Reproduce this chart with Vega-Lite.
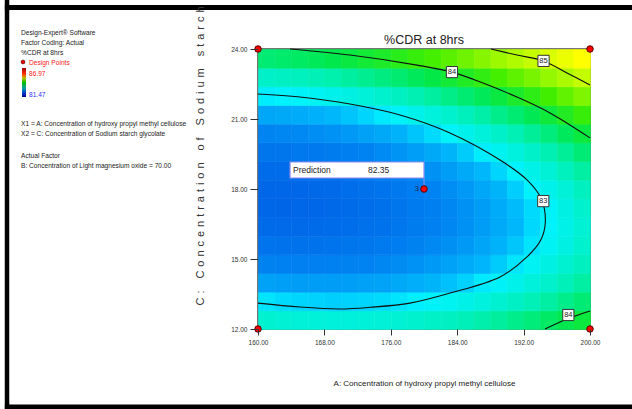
{
  "$schema": "https://vega.github.io/schema/vega-lite/v6.json",
  "width": 332,
  "height": 280,
  "autosize": {"type": "none"},
  "padding": {"left": 258, "top": 49, "right": 42, "bottom": 80},
  "background": "white",
  "config": {"view": {"stroke": "#4a4a4a", "strokeWidth": 1.5}},
  "datasets": {
    "grid": [
      {"a":161,"c":12.4,"v":83.32},{"a":161,"c":13.2,"v":82.95},{"a":161,"c":14.0,"v":82.63},{"a":161,"c":14.8,"v":82.38},{"a":161,"c":15.6,"v":82.19},{"a":161,"c":16.4,"v":82.07},{"a":161,"c":17.2,"v":82.01},{"a":161,"c":18.0,"v":82.01},{"a":161,"c":18.8,"v":82.08},{"a":161,"c":19.6,"v":82.21},{"a":161,"c":20.4,"v":82.40},{"a":161,"c":21.2,"v":82.66},{"a":161,"c":22.0,"v":82.98},{"a":161,"c":22.8,"v":83.36},{"a":161,"c":23.6,"v":83.81},
      {"a":163,"c":12.4,"v":83.29},{"a":163,"c":13.2,"v":82.92},{"a":163,"c":14.0,"v":82.61},{"a":163,"c":14.8,"v":82.36},{"a":163,"c":15.6,"v":82.18},{"a":163,"c":16.4,"v":82.06},{"a":163,"c":17.2,"v":82.00},{"a":163,"c":18.0,"v":82.01},{"a":163,"c":18.8,"v":82.08},{"a":163,"c":19.6,"v":82.22},{"a":163,"c":20.4,"v":82.42},{"a":163,"c":21.2,"v":82.68},{"a":163,"c":22.0,"v":83.00},{"a":163,"c":22.8,"v":83.39},{"a":163,"c":23.6,"v":83.85},
      {"a":165,"c":12.4,"v":83.27},{"a":165,"c":13.2,"v":82.90},{"a":165,"c":14.0,"v":82.59},{"a":165,"c":14.8,"v":82.35},{"a":165,"c":15.6,"v":82.17},{"a":165,"c":16.4,"v":82.06},{"a":165,"c":17.2,"v":82.01},{"a":165,"c":18.0,"v":82.02},{"a":165,"c":18.8,"v":82.10},{"a":165,"c":19.6,"v":82.24},{"a":165,"c":20.4,"v":82.44},{"a":165,"c":21.2,"v":82.71},{"a":165,"c":22.0,"v":83.04},{"a":165,"c":22.8,"v":83.43},{"a":165,"c":23.6,"v":83.89},
      {"a":167,"c":12.4,"v":83.25},{"a":167,"c":13.2,"v":82.89},{"a":167,"c":14.0,"v":82.59},{"a":167,"c":14.8,"v":82.35},{"a":167,"c":15.6,"v":82.18},{"a":167,"c":16.4,"v":82.07},{"a":167,"c":17.2,"v":82.02},{"a":167,"c":18.0,"v":82.04},{"a":167,"c":18.8,"v":82.12},{"a":167,"c":19.6,"v":82.26},{"a":167,"c":20.4,"v":82.47},{"a":167,"c":21.2,"v":82.74},{"a":167,"c":22.0,"v":83.08},{"a":167,"c":22.8,"v":83.48},{"a":167,"c":23.6,"v":83.94},
      {"a":169,"c":12.4,"v":83.24},{"a":169,"c":13.2,"v":82.88},{"a":169,"c":14.0,"v":82.59},{"a":169,"c":14.8,"v":82.36},{"a":169,"c":15.6,"v":82.19},{"a":169,"c":16.4,"v":82.08},{"a":169,"c":17.2,"v":82.04},{"a":169,"c":18.0,"v":82.06},{"a":169,"c":18.8,"v":82.15},{"a":169,"c":19.6,"v":82.30},{"a":169,"c":20.4,"v":82.51},{"a":169,"c":21.2,"v":82.79},{"a":169,"c":22.0,"v":83.13},{"a":169,"c":22.8,"v":83.53},{"a":169,"c":23.6,"v":84.00},
      {"a":171,"c":12.4,"v":83.24},{"a":171,"c":13.2,"v":82.89},{"a":171,"c":14.0,"v":82.60},{"a":171,"c":14.8,"v":82.37},{"a":171,"c":15.6,"v":82.21},{"a":171,"c":16.4,"v":82.11},{"a":171,"c":17.2,"v":82.07},{"a":171,"c":18.0,"v":82.10},{"a":171,"c":18.8,"v":82.19},{"a":171,"c":19.6,"v":82.34},{"a":171,"c":20.4,"v":82.56},{"a":171,"c":21.2,"v":82.84},{"a":171,"c":22.0,"v":83.19},{"a":171,"c":22.8,"v":83.60},{"a":171,"c":23.6,"v":84.07},
      {"a":173,"c":12.4,"v":83.25},{"a":173,"c":13.2,"v":82.90},{"a":173,"c":14.0,"v":82.62},{"a":173,"c":14.8,"v":82.39},{"a":173,"c":15.6,"v":82.23},{"a":173,"c":16.4,"v":82.14},{"a":173,"c":17.2,"v":82.11},{"a":173,"c":18.0,"v":82.14},{"a":173,"c":18.8,"v":82.24},{"a":173,"c":19.6,"v":82.39},{"a":173,"c":20.4,"v":82.62},{"a":173,"c":21.2,"v":82.90},{"a":173,"c":22.0,"v":83.25},{"a":173,"c":22.8,"v":83.67},{"a":173,"c":23.6,"v":84.15},
      {"a":175,"c":12.4,"v":83.27},{"a":175,"c":13.2,"v":82.92},{"a":175,"c":14.0,"v":82.64},{"a":175,"c":14.8,"v":82.42},{"a":175,"c":15.6,"v":82.27},{"a":175,"c":16.4,"v":82.18},{"a":175,"c":17.2,"v":82.15},{"a":175,"c":18.0,"v":82.19},{"a":175,"c":18.8,"v":82.29},{"a":175,"c":19.6,"v":82.45},{"a":175,"c":20.4,"v":82.68},{"a":175,"c":21.2,"v":82.97},{"a":175,"c":22.0,"v":83.33},{"a":175,"c":22.8,"v":83.75},{"a":175,"c":23.6,"v":84.23},
      {"a":177,"c":12.4,"v":83.29},{"a":177,"c":13.2,"v":82.95},{"a":177,"c":14.0,"v":82.68},{"a":177,"c":14.8,"v":82.46},{"a":177,"c":15.6,"v":82.31},{"a":177,"c":16.4,"v":82.23},{"a":177,"c":17.2,"v":82.21},{"a":177,"c":18.0,"v":82.25},{"a":177,"c":18.8,"v":82.35},{"a":177,"c":19.6,"v":82.52},{"a":177,"c":20.4,"v":82.75},{"a":177,"c":21.2,"v":83.05},{"a":177,"c":22.0,"v":83.41},{"a":177,"c":22.8,"v":83.83},{"a":177,"c":23.6,"v":84.32},
      {"a":179,"c":12.4,"v":83.33},{"a":179,"c":13.2,"v":82.99},{"a":179,"c":14.0,"v":82.72},{"a":179,"c":14.8,"v":82.51},{"a":179,"c":15.6,"v":82.37},{"a":179,"c":16.4,"v":82.29},{"a":179,"c":17.2,"v":82.27},{"a":179,"c":18.0,"v":82.31},{"a":179,"c":18.8,"v":82.42},{"a":179,"c":19.6,"v":82.60},{"a":179,"c":20.4,"v":82.84},{"a":179,"c":21.2,"v":83.14},{"a":179,"c":22.0,"v":83.50},{"a":179,"c":22.8,"v":83.93},{"a":179,"c":23.6,"v":84.42},
      {"a":181,"c":12.4,"v":83.37},{"a":181,"c":13.2,"v":83.04},{"a":181,"c":14.0,"v":82.77},{"a":181,"c":14.8,"v":82.57},{"a":181,"c":15.6,"v":82.43},{"a":181,"c":16.4,"v":82.35},{"a":181,"c":17.2,"v":82.34},{"a":181,"c":18.0,"v":82.39},{"a":181,"c":18.8,"v":82.50},{"a":181,"c":19.6,"v":82.68},{"a":181,"c":20.4,"v":82.92},{"a":181,"c":21.2,"v":83.23},{"a":181,"c":22.0,"v":83.60},{"a":181,"c":22.8,"v":84.03},{"a":181,"c":23.6,"v":84.53},
      {"a":183,"c":12.4,"v":83.41},{"a":183,"c":13.2,"v":83.09},{"a":183,"c":14.0,"v":82.83},{"a":183,"c":14.8,"v":82.63},{"a":183,"c":15.6,"v":82.49},{"a":183,"c":16.4,"v":82.42},{"a":183,"c":17.2,"v":82.42},{"a":183,"c":18.0,"v":82.47},{"a":183,"c":18.8,"v":82.59},{"a":183,"c":19.6,"v":82.77},{"a":183,"c":20.4,"v":83.02},{"a":183,"c":21.2,"v":83.33},{"a":183,"c":22.0,"v":83.71},{"a":183,"c":22.8,"v":84.14},{"a":183,"c":23.6,"v":84.64},
      {"a":185,"c":12.4,"v":83.47},{"a":185,"c":13.2,"v":83.15},{"a":185,"c":14.0,"v":82.89},{"a":185,"c":14.8,"v":82.70},{"a":185,"c":15.6,"v":82.57},{"a":185,"c":16.4,"v":82.50},{"a":185,"c":17.2,"v":82.50},{"a":185,"c":18.0,"v":82.56},{"a":185,"c":18.8,"v":82.69},{"a":185,"c":19.6,"v":82.87},{"a":185,"c":20.4,"v":83.13},{"a":185,"c":21.2,"v":83.44},{"a":185,"c":22.0,"v":83.82},{"a":185,"c":22.8,"v":84.26},{"a":185,"c":23.6,"v":84.77},
      {"a":187,"c":12.4,"v":83.54},{"a":187,"c":13.2,"v":83.22},{"a":187,"c":14.0,"v":82.97},{"a":187,"c":14.8,"v":82.78},{"a":187,"c":15.6,"v":82.65},{"a":187,"c":16.4,"v":82.59},{"a":187,"c":17.2,"v":82.59},{"a":187,"c":18.0,"v":82.66},{"a":187,"c":18.8,"v":82.79},{"a":187,"c":19.6,"v":82.98},{"a":187,"c":20.4,"v":83.24},{"a":187,"c":21.2,"v":83.56},{"a":187,"c":22.0,"v":83.94},{"a":187,"c":22.8,"v":84.39},{"a":187,"c":23.6,"v":84.90},
      {"a":189,"c":12.4,"v":83.61},{"a":189,"c":13.2,"v":83.30},{"a":189,"c":14.0,"v":83.05},{"a":189,"c":14.8,"v":82.87},{"a":189,"c":15.6,"v":82.75},{"a":189,"c":16.4,"v":82.69},{"a":189,"c":17.2,"v":82.70},{"a":189,"c":18.0,"v":82.77},{"a":189,"c":18.8,"v":82.90},{"a":189,"c":19.6,"v":83.10},{"a":189,"c":20.4,"v":83.36},{"a":189,"c":21.2,"v":83.69},{"a":189,"c":22.0,"v":84.07},{"a":189,"c":22.8,"v":84.53},{"a":189,"c":23.6,"v":85.04},
      {"a":191,"c":12.4,"v":83.69},{"a":191,"c":13.2,"v":83.38},{"a":191,"c":14.0,"v":83.14},{"a":191,"c":14.8,"v":82.96},{"a":191,"c":15.6,"v":82.85},{"a":191,"c":16.4,"v":82.79},{"a":191,"c":17.2,"v":82.81},{"a":191,"c":18.0,"v":82.88},{"a":191,"c":18.8,"v":83.02},{"a":191,"c":19.6,"v":83.22},{"a":191,"c":20.4,"v":83.49},{"a":191,"c":21.2,"v":83.82},{"a":191,"c":22.0,"v":84.21},{"a":191,"c":22.8,"v":84.67},{"a":191,"c":23.6,"v":85.19},
      {"a":193,"c":12.4,"v":83.78},{"a":193,"c":13.2,"v":83.48},{"a":193,"c":14.0,"v":83.24},{"a":193,"c":14.8,"v":83.07},{"a":193,"c":15.6,"v":82.95},{"a":193,"c":16.4,"v":82.91},{"a":193,"c":17.2,"v":82.92},{"a":193,"c":18.0,"v":83.00},{"a":193,"c":18.8,"v":83.15},{"a":193,"c":19.6,"v":83.36},{"a":193,"c":20.4,"v":83.63},{"a":193,"c":21.2,"v":83.96},{"a":193,"c":22.0,"v":84.36},{"a":193,"c":22.8,"v":84.82},{"a":193,"c":23.6,"v":85.35},
      {"a":195,"c":12.4,"v":83.88},{"a":195,"c":13.2,"v":83.58},{"a":195,"c":14.0,"v":83.35},{"a":195,"c":14.8,"v":83.18},{"a":195,"c":15.6,"v":83.07},{"a":195,"c":16.4,"v":83.03},{"a":195,"c":17.2,"v":83.05},{"a":195,"c":18.0,"v":83.13},{"a":195,"c":18.8,"v":83.28},{"a":195,"c":19.6,"v":83.50},{"a":195,"c":20.4,"v":83.77},{"a":195,"c":21.2,"v":84.11},{"a":195,"c":22.0,"v":84.51},{"a":195,"c":22.8,"v":84.98},{"a":195,"c":23.6,"v":85.51},
      {"a":197,"c":12.4,"v":83.98},{"a":197,"c":13.2,"v":83.69},{"a":197,"c":14.0,"v":83.46},{"a":197,"c":14.8,"v":83.30},{"a":197,"c":15.6,"v":83.19},{"a":197,"c":16.4,"v":83.16},{"a":197,"c":17.2,"v":83.18},{"a":197,"c":18.0,"v":83.27},{"a":197,"c":18.8,"v":83.43},{"a":197,"c":19.6,"v":83.64},{"a":197,"c":20.4,"v":83.92},{"a":197,"c":21.2,"v":84.27},{"a":197,"c":22.0,"v":84.68},{"a":197,"c":22.8,"v":85.15},{"a":197,"c":23.6,"v":85.68},
      {"a":199,"c":12.4,"v":84.09},{"a":199,"c":13.2,"v":83.81},{"a":199,"c":14.0,"v":83.58},{"a":199,"c":14.8,"v":83.42},{"a":199,"c":15.6,"v":83.33},{"a":199,"c":16.4,"v":83.29},{"a":199,"c":17.2,"v":83.33},{"a":199,"c":18.0,"v":83.42},{"a":199,"c":18.8,"v":83.58},{"a":199,"c":19.6,"v":83.80},{"a":199,"c":20.4,"v":84.09},{"a":199,"c":21.2,"v":84.44},{"a":199,"c":22.0,"v":84.86},{"a":199,"c":22.8,"v":85.34},{"a":199,"c":23.6,"v":85.86}
    ],
    "contours": [
      {"id":"c83","i":1,"a":160,"c":22.07},{"id":"c83","i":2,"a":165.06,"c":21.94},{"id":"c83","i":3,"a":171.08,"c":21.64},{"id":"c83","i":4,"a":177.11,"c":21.17},{"id":"c83","i":5,"a":183.13,"c":20.40},{"id":"c83","i":6,"a":189.16,"c":19.24},{"id":"c83","i":7,"a":192.41,"c":18.39},{"id":"c83","i":8,"a":194.10,"c":17.60},{"id":"c83","i":9,"a":194.62,"c":16.60},{"id":"c83","i":10,"a":194.05,"c":15.80},{"id":"c83","i":11,"a":192.41,"c":15.09},{"id":"c83","i":12,"a":189.16,"c":14.23},{"id":"c83","i":13,"a":183.13,"c":13.54},{"id":"c83","i":14,"a":178.31,"c":13.11},{"id":"c83","i":15,"a":173.5,"c":12.93},{"id":"c83","i":16,"a":169.88,"c":12.86},{"id":"c83","i":17,"a":165.06,"c":12.94},{"id":"c83","i":18,"a":160,"c":13.11},
      {"id":"c84t","i":1,"a":163.86,"c":24.0},{"id":"c84t","i":2,"a":171.08,"c":23.74},{"id":"c84t","i":3,"a":179.16,"c":23.31},{"id":"c84t","i":4,"a":183.37,"c":23.01},{"id":"c84t","i":5,"a":187.11,"c":22.54},{"id":"c84t","i":6,"a":191.2,"c":21.94},{"id":"c84t","i":7,"a":195.18,"c":21.26},{"id":"c84t","i":8,"a":200,"c":20.19},
      {"id":"c85","i":1,"a":188.07,"c":24.0},{"id":"c85","i":2,"a":191.2,"c":23.74},{"id":"c85","i":3,"a":194.4,"c":23.49},{"id":"c85","i":4,"a":197.23,"c":22.97},{"id":"c85","i":5,"a":200,"c":22.46},
      {"id":"c84b","i":1,"a":194.58,"c":12.0},{"id":"c84b","i":2,"a":197.39,"c":12.45},{"id":"c84b","i":3,"a":200,"c":12.77}
    ],
    "labels": [
      {"a":183.37,"c":23.01,"t":"84"},{"a":194.4,"c":23.49,"t":"85"},{"a":194.37,"c":17.48,"t":"83"},{"a":197.39,"c":12.6,"t":"84"}
    ],
    "design": [
      {"a":160,"c":12},{"a":160,"c":24},{"a":200,"c":12},{"a":200,"c":24},{"a":180,"c":18}
    ]
  },
  "layer": [
    {
      "data": {"name": "grid"},
      "mark": {"type": "rect", "strokeWidth": 0.6},
      "encoding": {
        "x": {"field": "a", "type": "quantitative", "bin": {"extent": [160, 200], "step": 2},
              "scale": {"domain": [160, 200], "nice": false, "zero": false},
              "axis": {"values": [160, 168, 176, 184, 192, 200], "format": ".2f", "title": "A: Concentration of hydroxy propyl methyl cellulose",
                       "domain": false, "grid": false, "tickSize": 6, "tickColor": "#333333", "tickWidth": 1,
                       "labelFont": "Liberation Sans, Arial, sans-serif", "labelFontSize": 6.5, "labelColor": "#333333", "labelPadding": 4,
                       "labelFlush": false, "labelOverlap": false, "labelBound": false,
                       "titleFont": "Liberation Sans, Arial, sans-serif", "titleFontSize": 8, "titleFontWeight": "normal", "titleColor": "#222222",
                       "titleX": 166, "titleY": 54, "titleAlign": "center", "titleBaseline": "middle"}},
        "y": {"field": "c", "type": "quantitative", "bin": {"extent": [12, 24], "step": 0.8},
              "scale": {"domain": [12, 24], "nice": false, "zero": false},
              "axis": {"values": [12, 15, 18, 21, 24], "format": ".2f",
                       "title": "C \u200a: \u200a \u200a \u200aC \u200ao \u200an \u200ac \u200ae \u200an \u200at \u200ar \u200aa \u200at \u200ai \u200ao \u200an \u200a \u200a \u200ao \u200af \u200a \u200a \u200aS \u200ao \u200ad \u200ai \u200au \u200am \u200a \u200a \u200as \u200at \u200aa \u200ar \u200ac \u200ah \u200a \u200a \u200ag \u200al \u200ay \u200ac \u200ao \u200al \u200aa \u200at \u200ae",
                       "domain": false, "grid": false, "tickSize": 8, "tickColor": "#333333", "tickWidth": 1,
                       "labelFont": "Liberation Sans, Arial, sans-serif", "labelFontSize": 6.5, "labelColor": "#333333", "labelPadding": 3,
                       "labelFlush": false, "labelOverlap": false, "labelBound": false,
                       "titleFont": "Liberation Sans, Arial, sans-serif", "titleFontSize": 11, "titleFontWeight": "normal", "titleColor": "#333333",
                       "titleX": -55, "titleY": 256, "titleAngle": 270, "titleAlign": "left", "titleBaseline": "alphabetic"}},
        "fill": {"field": "v", "type": "quantitative", "legend": null,
                 "scale": {"domain": [81.95, 82.4, 82.8, 83.0, 83.5, 84.0, 84.5, 85.0, 85.5, 85.85],
                           "range": ["#0062e6", "#0084f2", "#00b8fb", "#00f2ff", "#00f0b4", "#00e84c", "#40ee00", "#98f800", "#d8ff00", "#ffff00"], "interpolate": "rgb"}},
        "stroke": {"field": "v", "type": "quantitative", "legend": null,
                 "scale": {"domain": [81.95, 82.4, 82.8, 83.0, 83.5, 84.0, 84.5, 85.0, 85.5, 85.85],
                           "range": ["#0062e6", "#0084f2", "#00b8fb", "#00f2ff", "#00f0b4", "#00e84c", "#40ee00", "#98f800", "#d8ff00", "#ffff00"], "interpolate": "rgb"}}
      }
    },
    {
      "data": {"name": "contours"},
      "mark": {"type": "line", "interpolate": "catmull-rom", "color": "#111111", "strokeWidth": 1.1},
      "encoding": {
        "x": {"field": "a", "type": "quantitative", "scale": {"domain": [160, 200], "nice": false, "zero": false}},
        "y": {"field": "c", "type": "quantitative", "scale": {"domain": [12, 24], "nice": false, "zero": false}},
        "detail": {"field": "id"},
        "order": {"field": "i", "type": "quantitative"}
      }
    },
    {
      "data": {"name": "labels"},
      "mark": {"type": "point", "shape": "square", "size": 125, "filled": true, "fill": "white", "stroke": "#333333", "strokeWidth": 1, "opacity": 1},
      "encoding": {
        "x": {"field": "a", "type": "quantitative", "scale": {"domain": [160, 200], "nice": false, "zero": false}},
        "y": {"field": "c", "type": "quantitative", "scale": {"domain": [12, 24], "nice": false, "zero": false}}
      }
    },
    {
      "data": {"name": "labels"},
      "mark": {"type": "text", "fontSize": 7.5, "font": "Liberation Sans, Arial, sans-serif", "color": "#222222", "baseline": "middle", "align": "center"},
      "encoding": {
        "x": {"field": "a", "type": "quantitative", "scale": {"domain": [160, 200], "nice": false, "zero": false}},
        "y": {"field": "c", "type": "quantitative", "scale": {"domain": [12, 24], "nice": false, "zero": false}},
        "text": {"field": "t"}
      }
    },
    {
      "data": {"values": [{}]},
      "mark": {"type": "rect", "fill": "white", "stroke": "#8c8cf0", "strokeWidth": 1.2},
      "encoding": {
        "x": {"datum": 163.86}, "x2": {"datum": 180},
        "y": {"datum": 19.157}, "y2": {"datum": 18.471}
      }
    },
    {
      "data": {"values": [{}]},
      "mark": {"type": "rule", "color": "#8c8cf0", "strokeWidth": 1},
      "encoding": {
        "x": {"datum": 180},
        "y": {"datum": 18.471}, "y2": {"datum": 18.0}
      }
    },
    {
      "data": {"values": [{}]},
      "mark": {"type": "text", "fontSize": 8.5, "font": "Liberation Sans, Arial, sans-serif", "color": "#222222", "align": "left", "baseline": "middle"},
      "encoding": {
        "x": {"datum": 164.22}, "y": {"datum": 18.814},
        "text": {"value": "Prediction"}
      }
    },
    {
      "data": {"values": [{}]},
      "mark": {"type": "text", "fontSize": 8.5, "font": "Liberation Sans, Arial, sans-serif", "color": "#222222", "align": "left", "baseline": "middle"},
      "encoding": {
        "x": {"datum": 173.25}, "y": {"datum": 18.814},
        "text": {"value": "82.35"}
      }
    },
    {
      "data": {"name": "design"},
      "mark": {"type": "point", "filled": true, "fill": "#ff0000", "stroke": "#5a0000", "strokeWidth": 1, "size": 42, "opacity": 1},
      "encoding": {
        "x": {"field": "a", "type": "quantitative", "scale": {"domain": [160, 200], "nice": false, "zero": false}},
        "y": {"field": "c", "type": "quantitative", "scale": {"domain": [12, 24], "nice": false, "zero": false}}
      }
    },
    {
      "data": {"values": [{"a": 180, "c": 18, "n": "3"}]},
      "mark": {"type": "text", "fontSize": 7.5, "font": "Liberation Sans, Arial, sans-serif", "color": "#1a2a50", "align": "right", "baseline": "middle", "dx": -5},
      "encoding": {
        "x": {"field": "a", "type": "quantitative", "scale": {"domain": [160, 200], "nice": false, "zero": false}},
        "y": {"field": "c", "type": "quantitative", "scale": {"domain": [12, 24], "nice": false, "zero": false}},
        "text": {"field": "n"}
      }
    },
    {
      "data": {"values": [{}]},
      "mark": {"type": "text", "fontSize": 12.5, "font": "Liberation Sans, Arial, sans-serif", "color": "#222222", "align": "center", "baseline": "alphabetic"},
      "encoding": {
        "x": {"datum": 180}, "y": {"datum": 24.214},
        "text": {"value": "%CDR at 8hrs"}
      }
    },
    {
      "data": {"values": [{}]},
      "mark": {"type": "text", "fontSize": 6.6, "font": "Liberation Sans, Arial, sans-serif", "color": "#222222", "align": "left", "baseline": "alphabetic", "lineHeight": 10},
      "encoding": {
        "x": {"datum": 131.45}, "y": {"datum": 24.579},
        "text": {"value": ["Design-Expert® Software", "Factor Coding: Actual", "%CDR at 8hrs"]}
      }
    },
    {
      "data": {"values": [{}]},
      "mark": {"type": "text", "fontSize": 6.6, "font": "Liberation Sans, Arial, sans-serif", "color": "#ff2020", "align": "left", "baseline": "alphabetic"},
      "encoding": {
        "x": {"datum": 132.41}, "y": {"datum": 23.293},
        "text": {"value": "Design Points"}
      }
    },
    {
      "data": {"values": [{}]},
      "mark": {"type": "point", "filled": true, "fill": "#ff0000", "stroke": "#5a0000", "strokeWidth": 0.8, "size": 14, "opacity": 1},
      "encoding": {
        "x": {"datum": 131.69}, "y": {"datum": 23.443}
      }
    },
    {
      "data": {"values": [{}]},
      "mark": {"type": "rect", "fill": {"gradient": "linear", "x1": 0, "y1": 0, "x2": 0, "y2": 1,
               "stops": [{"offset": 0, "color": "#a00000"}, {"offset": 0.2, "color": "#ff3000"}, {"offset": 0.35, "color": "#c0c000"}, {"offset": 0.5, "color": "#00c000"}, {"offset": 0.7, "color": "#00a0a0"}, {"offset": 0.85, "color": "#0040d0"}, {"offset": 1, "color": "#000090"}]}},
      "encoding": {
        "x": {"datum": 131.57}, "x2": {"datum": 132.05},
        "y": {"datum": 23.186}, "y2": {"datum": 21.943}
      }
    },
    {
      "data": {"values": [{}]},
      "mark": {"type": "text", "fontSize": 6.6, "font": "Liberation Sans, Arial, sans-serif", "color": "#ff2020", "align": "left", "baseline": "alphabetic"},
      "encoding": {
        "x": {"datum": 132.41}, "y": {"datum": 22.864},
        "text": {"value": "86.97"}
      }
    },
    {
      "data": {"values": [{}]},
      "mark": {"type": "text", "fontSize": 6.6, "font": "Liberation Sans, Arial, sans-serif", "color": "#3030ff", "align": "left", "baseline": "alphabetic"},
      "encoding": {
        "x": {"datum": 132.41}, "y": {"datum": 21.964},
        "text": {"value": "81.47"}
      }
    },
    {
      "data": {"values": [{}]},
      "mark": {"type": "text", "fontSize": 6.6, "font": "Liberation Sans, Arial, sans-serif", "color": "#222222", "align": "left", "baseline": "alphabetic", "lineHeight": 10},
      "encoding": {
        "x": {"datum": 131.45}, "y": {"datum": 20.679},
        "text": {"value": ["X1 = A: Concentration of hydroxy propyl methyl cellulose", "X2 = C: Concentration of Sodium starch glycolate"]}
      }
    },
    {
      "data": {"values": [{}]},
      "mark": {"type": "text", "fontSize": 6.6, "font": "Liberation Sans, Arial, sans-serif", "color": "#222222", "align": "left", "baseline": "alphabetic", "lineHeight": 10},
      "encoding": {
        "x": {"datum": 131.45}, "y": {"datum": 19.35},
        "text": {"value": ["Actual Factor", "B: Concentration of Light magnesium oxide = 70.00"]}
      }
    },
    {
      "data": {"values": [{}]},
      "mark": {"type": "rule", "color": "black", "strokeWidth": 4.5},
      "encoding": {
        "x": {"datum": 129.76},
        "y": {"datum": 26.5}, "y2": {"datum": 8.0}
      }
    },
    {
      "data": {"values": [{}]},
      "mark": {"type": "rule", "color": "black", "strokeWidth": 5},
      "encoding": {
        "y": {"datum": 25.779},
        "x": {"datum": 129.5}, "x2": {"datum": 207}
      }
    },
    {
      "data": {"values": [{}]},
      "mark": {"type": "rule", "color": "black", "strokeWidth": 5},
      "encoding": {
        "y": {"datum": 8.657},
        "x": {"datum": 129.5}, "x2": {"datum": 207}
      }
    }
  ]
}
